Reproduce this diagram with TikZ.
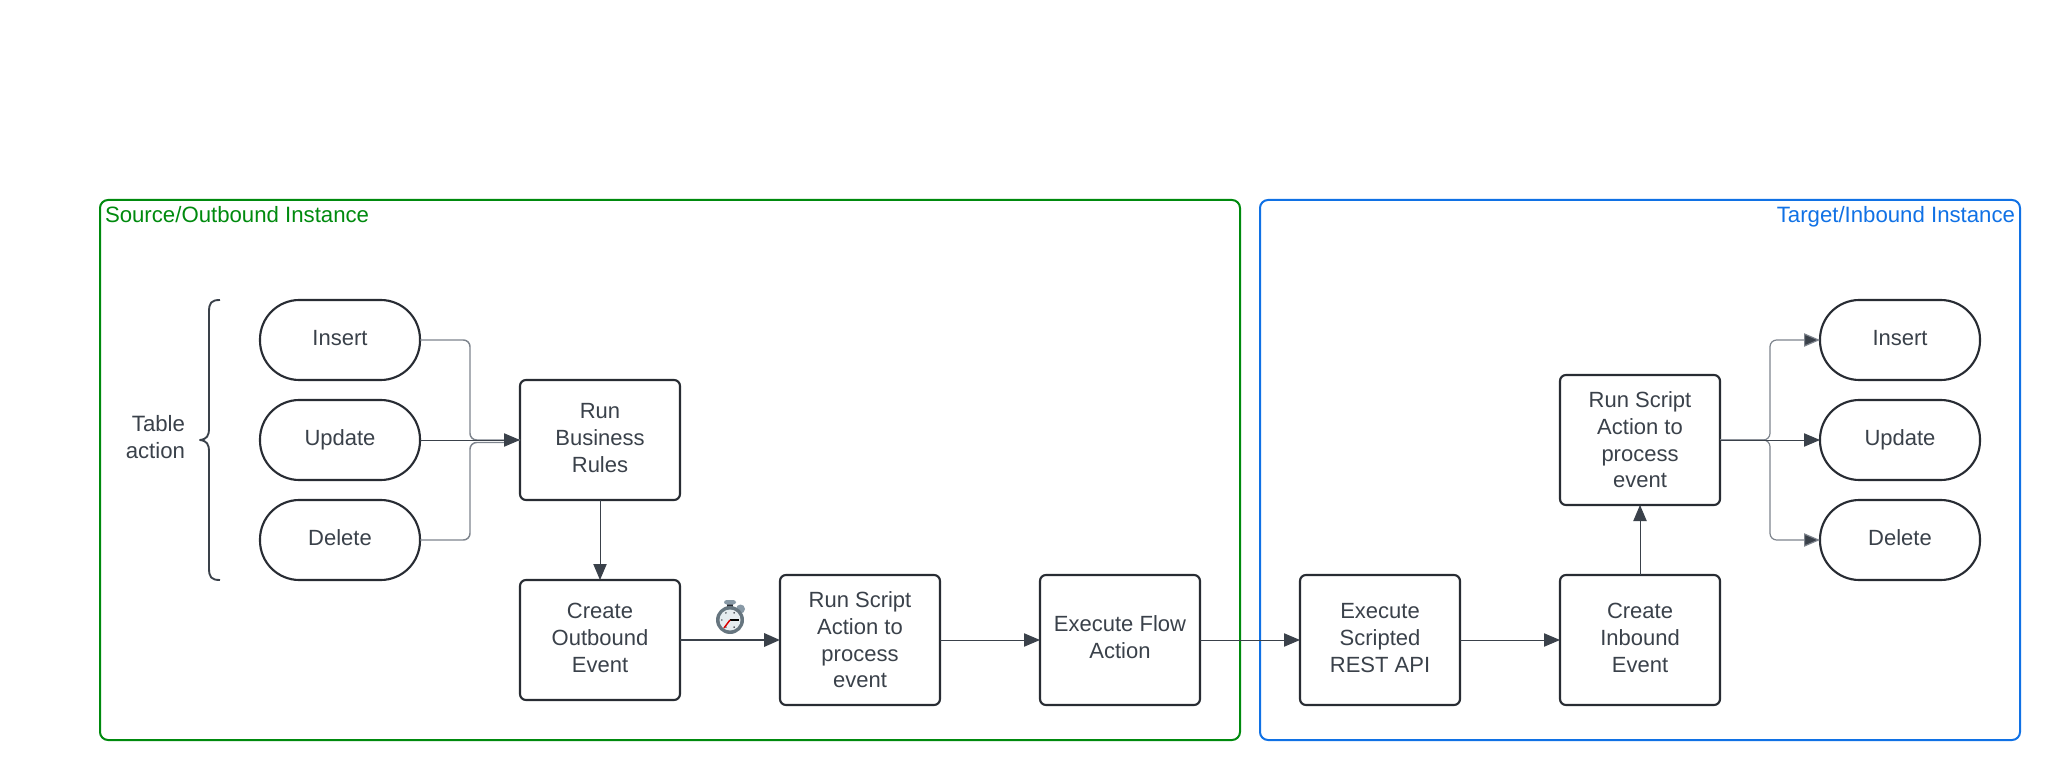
\documentclass[tikz,border=0pt]{standalone}
\usepackage{fontspec}
\setmainfont{Liberation Sans}
\usetikzlibrary{arrows.meta,calc}
\definecolor{ink}{HTML}{282C33}
\definecolor{txt}{HTML}{3A414A}
\definecolor{linegray}{HTML}{7E848D}
\definecolor{tipcol}{HTML}{3A414A}
\definecolor{srcgreen}{HTML}{008A0E}
\definecolor{tgtblue}{HTML}{1071E5}
\definecolor{swring}{HTML}{66757F}
\definecolor{swbtn}{HTML}{8899A6}
\definecolor{swface}{HTML}{E6ECF0}
\newcommand\lift[1]{\rule[-#1]{0pt}{#1}}
\tikzset{
  base/.style={draw=ink,line width=1.6pt,fill=white,outer sep=0pt,inner sep=0pt,align=center,
    text=txt,font=\fontsize{16.5}{20}\selectfont},
  pill/.style={base,rounded corners=29.5pt,minimum width=120pt,minimum height=60pt},
  boxa/.style={base,rounded corners=4.5pt,minimum width=120pt,minimum height=90pt},
  boxb/.style={base,rounded corners=4.5pt,minimum width=120pt,minimum height=97.5pt},
  region/.style={line width=1.5pt,rounded corners=6pt,outer sep=0pt,inner sep=0pt,minimum width=#1},
  caption/.style={font=\fontsize{16.65}{20}\selectfont,inner sep=0pt,outer sep=0pt},
  flow/.style={draw=txt,line width=.65pt,-{Triangle[length=12pt,width=10pt,fill=tipcol]}},
  flowthick/.style={draw=txt,line width=1.9pt,-{Triangle[length=12pt,width=10pt,fill=tipcol]}},
  elbow/.style={draw=linegray,line width=1.1pt,rounded corners=5pt},
}
\begin{document}
\begin{tikzpicture}[x=0.75pt,y=-0.75pt]
\useasboundingbox (0,0) rectangle (2060,780);
% regions
\node[region=855pt,draw=srcgreen,minimum height=405pt] (src) at (670,470) {};
\node[region=570pt,draw=tgtblue,minimum height=405pt] (tgt) at (1640,470) {};
\node[caption,text=srcgreen,anchor=base west] (srct) at (105,223) {Source/Outbound Instance};
\node[caption,text=tgtblue,anchor=base east] (tgtt) at (2015,223) {Target/Inbound Instance};
% left group
\node[caption,text=txt,align=right,anchor=east] (tbl) at (185,437) {Table\\action};
\node[pill] (i1) at (340,340) {Insert\lift{3.7pt}};
\node[pill] (u1) at (340,440) {Update\lift{3.7pt}};
\node[pill] (d1) at (340,540) {Delete\lift{3.7pt}};
\draw[draw=txt,line width=1.4pt,line join=round] (220,300) .. controls (211,300) and (209,303) .. (209,312)
  -- (209,428) .. controls (209,436) and (207,439) .. (200,440)
  .. controls (207,441) and (209,444) .. (209,452)
  -- (209,568) .. controls (209,577) and (211,580) .. (220,580);
\node[boxa] (biz) at (600,440) {Run\\Business\\Rules\lift{3.2pt}};
\node[boxa] (cob) at (600,640) {Create\\Outbound\\Event\lift{3.2pt}};
\node[boxb] (rs1) at (860,640) {Run Script\\Action to\\process\\event};
\node[boxb] (efa) at (1120,640) {Execute Flow\\Action\lift{4.7pt}};
\node[boxb] (api) at (1380,640) {Execute\\Scripted\\REST API\lift{3.2pt}};
\node[boxb] (cib) at (1640,640) {Create\\Inbound\\Event\lift{3.2pt}};
\node[boxb] (rs2) at (1640,440) {Run Script\\Action to\\process\\event};
\node[pill] (i2) at (1900,340) {Insert\lift{3.7pt}};
\node[pill] (u2) at (1900,440) {Update\lift{3.7pt}};
\node[pill] (d2) at (1900,540) {Delete\lift{3.7pt}};
% left elbows
\coordinate (lb) at (470,440);
\coordinate (lc) at (470,442.5);
\coordinate (lcend) at (505,442.5);
\draw[elbow] (i1.east) -| (lb) -- (biz.west);
\draw[elbow] (d1.east) -| (lc) -- (lcend);
\draw[flow] (u1.east) -- (biz.west);
\draw[flow] (biz.south) -- (cob.north);
\draw[flowthick] (cob.east) -- (rs1.west);
\draw[flow] (rs1.east) -- (efa.west);
\draw[flow] (efa.east) -- (api.west);
\draw[flow] (api.east) -- (cib.west);
\draw[flow] (cib.north) -- (rs2.south);
% right elbows
\coordinate (rb) at (1770,440);
\draw[flow,draw=linegray,line width=.9pt,rounded corners=5pt] (rs2.east) -- (rb) |- (i2.west);
\draw[flow,draw=linegray,line width=.9pt,rounded corners=5pt] (rs2.east) -- (rb) |- (d2.west);
\draw[flow] (rs2.east) -- (u2.west);
% stopwatch
\coordinate (sw) at (730,620);
\begin{scope}[shift={(sw)}]
  \fill[color=ink] (-3,-17) rectangle (3,-11);
  \fill[color=swbtn,rounded corners=2pt] (-6,-20) rectangle (6,-15.5);
  \fill[color=swbtn] (10.5,-11) circle (4.5);
  \fill[color=swring] (0,0) circle (14);
  \fill[color=swface] (0,0) circle (10.5);
  \foreach \a in {0,60,120,180,240,300}
    \fill[color=ink] (\a:8.2) circle (.8);
  \draw[black,line width=1.4pt] (0,0) -- (9,0);
  \draw[red!85!black,line width=1.1pt] (0,0) -- (-6,8);
\end{scope}
\end{tikzpicture}
\end{document}
